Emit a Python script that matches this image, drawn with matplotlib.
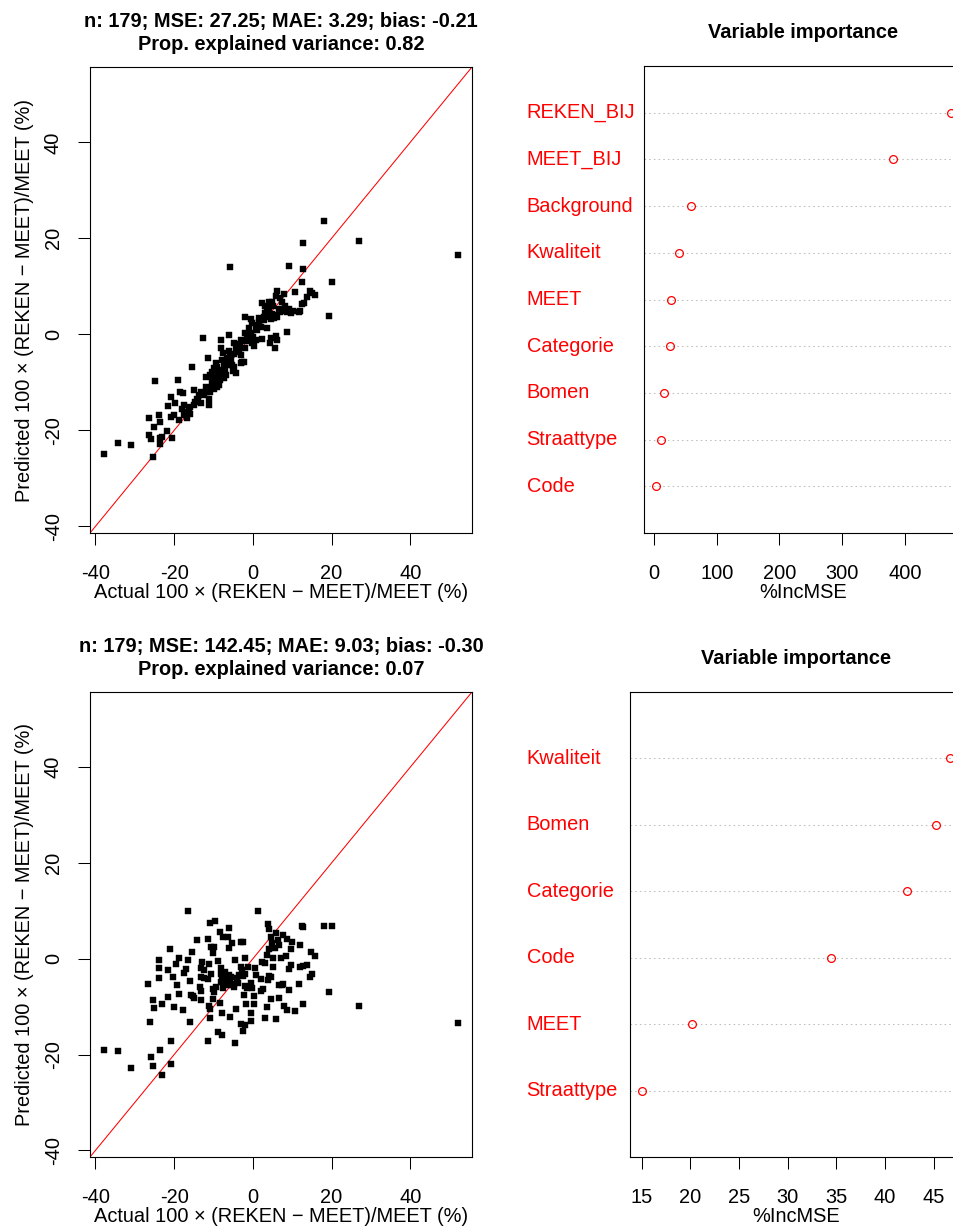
import matplotlib
matplotlib.use("Agg")
import matplotlib.pyplot as plt
from matplotlib.transforms import blended_transform_factory

plt.rcParams['font.family'] = ['Liberation Sans', 'DejaVu Sans']
plt.rcParams['axes.unicode_minus'] = False

# ---- datos panel superior (modelo 1) ----
act_top = [-5.9, 9.2, 12.8, 20.2, 12.4, 6.2, 7.9, 10.6, 14.5, 15.1,
           15.8, 13.8, 12.6, 12.1, 11.7, 7.0, 7.5, 2.4, 4.1, 4.9,
           3.6, 4.1, 3.2, 4.9, 7.0, 7.9, 8.7, 9.6, 6.2, 5.3,
           4.5, 2.8, 1.5, -1.9, -0.6, -0.3, 1.5, 0.7, 2.0, 3.6,
           8.7, 19.3, -1.9, -0.6, -6.1, -12.7, -8.1, -3.1, -2.3, -1.0,
           -0.2, 0.3, 0.7, 2.4, 4.7, 5.8, 6.2, 5.5, -8.2, -6.1,
           -4.4, -4.0, -4.8, -5.7, -3.1, -2.7, -2.3, -6.5, -7.0, -7.8,
           -7.4, -6.1, -5.3, -4.8, -9.1, -9.9, -10.3, -8.6, -8.2, -7.8,
           -7.4, -9.1, -9.5, -9.9, -8.6, -10.3, -11.2, -11.6, -10.8, -9.8,
           -9.1, -12.0, -11.4, -15.4, -19.1, -25.0, -4.4, -12.5, -13.3, -13.7,
           -14.2, -14.6, -13.3, -15.0, -15.9, -16.3, -16.7, -11.2, -11.2, -17.6,
           -18.4, -17.7, -20.9, -19.7, -21.6, -15.9, -16.7, -17.6, -20.1, -20.9,
           -18.8, -26.5, -23.9, -23.7, -25.2, -26.5, -26.0, -23.5, -23.1, -23.5,
           -21.8, -20.5, -25.3, 18.1, 12.8, 26.9, 52.1, -37.8, -34.4, -31.0,
           -8.9, -7.0, -6.6, -5.5, -9.6, -10.5, -8.4, -6.9, -3.6, -2.0,
           -1.4, 1.0, 2.9, 3.9, 5.6, 6.6, 8.2, 9.2, 10.2, 5.0,
           6.0, 3.0, -12.8, -11.9, -13.9, -4.9, -3.3, 0.0, 1.2, -0.9,
           -7.6, -5.0, -14.9, -18.0, -10.9, -2.9, 12.9, 4.3, -9.4]
pred_top = [14.0, 14.3, 13.6, 10.8, 10.8, 9.0, 8.4, 8.9, 9.1, 8.7,
            8.2, 7.7, 6.3, 4.9, 4.7, 7.5, 6.8, 6.6, 6.8, 6.8,
            5.6, 4.7, 4.4, 4.2, 4.7, 4.9, 4.7, 4.4, 3.7, 3.3,
            3.1, 3.7, 3.3, 3.6, 3.1, 2.3, 2.6, 1.6, 1.6, 1.4,
            0.4, 3.9, 0.2, 0.3, -0.1, -0.8, -1.2, -1.2, -1.4, -1.4,
            -1.9, -2.4, -1.2, -1.0, -0.8, -0.3, -1.2, -2.9, -2.9, -3.4,
            -2.9, -3.6, -4.2, -4.7, -4.3, -5.7, -5.8, -5.0, -5.7, -5.4,
            -6.4, -6.3, -6.4, -6.8, -6.8, -7.1, -7.8, -7.4, -8.1, -8.8,
            -9.2, -8.8, -9.5, -10.2, -10.6, -10.9, -11.3, -12.0, -12.0, -11.3,
            -10.9, -8.8, -5.0, -6.9, -9.5, -9.7, -8.0, -12.3, -12.0, -12.7,
            -13.4, -14.1, -14.4, -14.8, -15.1, -15.8, -16.1, -13.4, -14.8, -14.8,
            -12.0, -12.3, -13.0, -14.4, -15.0, -16.7, -17.5, -16.8, -16.8, -17.2,
            -17.9, -17.4, -16.8, -18.2, -19.3, -20.9, -21.9, -21.7, -21.4, -22.8,
            -20.2, -21.7, -25.6, 23.6, 19.1, 19.5, 16.6, -24.9, -22.7, -23.0,
            -7.9, -7.2, -5.9, -5.2, -9.0, -9.8, -9.6, -8.5, -3.3, -2.8,
            -0.7, 0.8, 2.9, 3.6, 4.0, 5.3, 5.9, 5.2, 4.9, 5.8,
            7.9, 5.9, -12.6, -10.9, -13.9, -1.9, -2.0, -0.6, 1.9, 1.3,
            -3.9, -7.6, -11.5, -15.5, -8.4, -6.0, 6.5, -1.9, -5.9]

# ---- datos panel inferior (modelo 2) ----
act_bot = [-37.8, -34.4, -31.0, 52.1, 26.9, -25.3, -23.1, -26.0, -20.9, 19.3,
           -16.6, 1.4, -10.9, -9.5, -6.1, -8.4, -7.6, -6.4, -11.5, -5.2,
           -3.0, -2.5, -10.6, -9.8, -6.0, -21.1, -15.5, -10.1, 3.8, 4.2,
           12.6, 12.8, 18.1, 20.2, 6.0, 7.7, 6.3, 4.9, 5.6, 4.2,
           9.6, 11.9, 3.5, 8.5, 5.1, 7.2, 3.2, 2.4, -1.9, -4.6,
           15.9, 9.8, 11.9, 12.8, 13.8, 15.1, 14.5, 9.1, -23.9, -18.8,
           -16.5, -19.6, -23.9, -21.6, -17.0, -17.6, -13.3, -12.5, -11.2, -8.9,
           -8.0, -10.6, -13.3, -12.5, -11.5, -20.4, -23.9, -26.6, -19.2, -13.5,
           -8.2, -7.8, -7.2, -8.2, -6.1, -5.9, -7.0, -6.7, -4.7, -4.0,
           -3.6, -3.1, -2.7, -1.9, -1.2, -0.4, -0.2, -2.0, -4.8, -7.6,
           -10.2, -13.1, -18.8, -21.5, -25.4, -23.2, -25.1, -20.1, -17.7, -15.6,
           -15.0, -15.2, -13.3, -10.2, -11.2, -10.8, -8.4, -7.9, -5.9, -10.8,
           -4.2, -1.7, 0.3, -0.6, -0.6, -3.1, -1.9, -2.5, -8.9, -7.9,
           -11.4, -4.6, -20.7, -23.5, -16.1, 2.1, 2.0, 2.5, 4.1, 3.9,
           6.7, 7.7, 7.3, 11.6, 4.7, 6.7, 3.5, 0.3, 7.9, 8.7,
           10.6, 12.7, 3.2, 6.0, -7.3, -6.3, -5.5, -6.6, -5.6, -2.5,
           -3.8, -1.6, -9.4, 0.5, 0.9, 6.6, 8.7, 10.0, 4.7, 4.7,
           -12.9, -16.0, -9.9, -2.2, 5.2, 9.2, 14.8, -14.3, -26.2]
pred_bot = [-19.0, -19.3, -22.9, -13.5, -9.8, -22.4, -24.3, -20.6, -21.9, -7.0,
            9.9, 9.9, 7.4, 7.8, 6.5, 5.6, 4.6, 4.6, 4.2, 3.3,
            3.4, 3.5, 2.4, 2.4, 2.2, 2.0, 1.5, 1.1, 7.2, 6.3,
            6.9, 6.7, 6.9, 6.9, 5.4, 4.9, 4.0, 3.3, 2.2, 2.0,
            2.1, 2.8, 0.8, 0.6, 0.1, 0.1, -0.8, -0.6, 0.1, -0.3,
            0.5, -1.3, -1.7, -1.5, -1.3, -3.1, -3.8, -2.2, -0.3, 0.2,
            -0.3, -1.2, -2.0, -2.4, -2.2, -2.9, -2.0, -2.4, -1.0, -0.5,
            -1.9, -3.1, -3.8, -4.0, -4.2, -3.8, -4.1, -5.3, -5.4, -5.9,
            -3.1, -4.0, -4.2, -4.8, -3.4, -4.5, -2.7, -5.4, -5.2, -4.1,
            -3.3, -1.7, -2.4, -3.1, -1.7, -5.0, -6.2, -5.7, -5.9, -6.2,
            -6.3, -6.8, -7.4, -7.9, -8.6, -9.5, -10.2, -10.0, -10.6, -7.6,
            -8.3, -7.8, -8.6, -8.4, -9.8, -10.4, -9.3, -11.3, -12.1, -12.3,
            -10.4, -9.4, -9.5, -11.3, -13.0, -13.6, -13.9, -15.1, -15.3, -16.0,
            -17.2, -17.6, -17.1, -19.1, -13.2, -4.3, -6.8, -6.4, -3.6, -4.5,
            -5.5, -5.2, -5.5, -5.2, -8.5, -8.1, -10.0, -7.8, -9.9, -10.6,
            -10.9, -9.4, -12.3, -12.5, -3.5, -3.6, -3.9, -4.6, -5.5, -3.6,
            -5.0, -6.2, -5.9, -2.0, -3.3, 2.9, 4.2, 3.6, 4.6, -3.8,
            -0.6, -4.6, -6.9, -7.6, -1.7, -6.6, 1.5, 4.0, -13.3]

# estadisticas que muestra el titulo
stats_top = ["27.25", "3.29", "-0.21", "0.82"]
stats_bot = ["142.45", "9.03", "-0.30", "0.07"]

# importancia de variables (de arriba hacia abajo)
vars_top = ["REKEN_BIJ", "MEET_BIJ", "Background", "Kwaliteit", "MEET",
            "Categorie", "Bomen", "Straattype", "Code"]
imp_top = [473.0, 380.7, 59.5, 40.4, 27.1, 25.5, 16.0, 11.2, 2.7]
vars_bot = ["Kwaliteit", "Bomen", "Categorie", "Code", "MEET", "Straattype"]
imp_bot = [46.7, 45.2, 42.3, 34.4, 20.2, 15.06]

W, H = 954, 1230
FS = 14.4
fig = plt.figure(figsize=(W / 100, H / 100), dpi=100)


def box(l, t, r, b):
    return [l / W, 1 - b / H, (r - l) / W, (b - t) / H]


def rango(v):
    lo, hi = min(v), max(v)
    d = 0.04 * (hi - lo)
    return lo - d, hi + d


def estilo(ax):
    for s in ax.spines.values():
        s.set_linewidth(0.8)
        s.set_color("black")
    ax.tick_params(axis="both", direction="out", length=8.6, width=0.75,
                   labelsize=FS)
    ax.tick_params(axis="x", pad=14)


def panel_scatter(ax, act, pred, stats, y_label_px, y_center_px):
    lo, hi = rango(act + pred)
    ax.scatter(act, pred, marker="s", s=13, c="black", edgecolors="black",
               linewidths=0.3, zorder=3)
    ax.axline((0, 0), slope=1, color="red", lw=0.75, zorder=2)
    ax.set_xlim(lo, hi)
    ax.set_ylim(lo, hi)
    ticks = [-40, -20, 0, 20, 40]
    ax.set_xticks(ticks)
    ax.set_yticks(ticks)
    ax.set_yticklabels([str(t) for t in ticks], rotation=90, va="center")
    estilo(ax)
    ax.tick_params(axis="y", pad=11)
    mse, mae, bias, pev = stats
    ax.set_title(f"n: {len(act)}; MSE: {mse}; MAE: {mae}; bias: {bias}\n"
                 f"Prop. explained variance: {pev}",
                 fontsize=FS, fontweight="bold", pad=12, linespacing=1.3)
    fig.text(281 / W, 1 - y_label_px / H,
             "Actual 100 × (REKEN − MEET)/MEET (%)",
             ha="center", va="baseline", fontsize=FS)
    fig.text(25 / W, 1 - y_center_px / H,
             "Predicted 100 × (REKEN − MEET)/MEET (%)",
             ha="center", va="center", rotation=90, fontsize=FS)


def panel_dot(ax, nombres, valores, xticks, y_label_px):
    n = len(valores)
    ypos = list(range(n, 0, -1))
    for y in ypos:
        ax.axhline(y, color="#BEBEBE", lw=0.75, ls=(0, (1.5, 3)), zorder=1)
    ax.plot(valores, ypos, "o", mfc="none", mec="red", ms=5.6, mew=0.9,
            zorder=3)
    ax.set_ylim(0, n + 1)
    ax.set_xlim(*rango(valores))
    ax.set_yticks([])
    ax.set_xticks(xticks)
    estilo(ax)
    trans = blended_transform_factory(fig.transFigure, ax.transData)
    for nom, y in zip(nombres, ypos):
        ax.text(526.5 / W, y, nom, transform=trans, color="red",
                ha="left", va="center", fontsize=FS)
    ax.set_title("Variable importance", fontsize=FS, fontweight="bold", pad=20)
    l, r = ax.get_position().x0, ax.get_position().x1
    fig.text((l + r) / 2, 1 - y_label_px / H, "%IncMSE",
             ha="center", va="baseline", fontsize=FS)


ax1 = fig.add_axes(box(90, 67, 472, 533))
ax2 = fig.add_axes(box(644, 66, 962.4, 533))
ax3 = fig.add_axes(box(90, 692, 472, 1157))
ax4 = fig.add_axes(box(630, 692, 962.5, 1157))

panel_scatter(ax1, act_top, pred_top, stats_top, 598, 300)
panel_scatter(ax3, act_bot, pred_bot, stats_bot, 1222, 924.5)
panel_dot(ax2, vars_top, imp_top, [0, 100, 200, 300, 400], 598)
panel_dot(ax4, vars_bot, imp_bot, [15, 20, 25, 30, 35, 40, 45], 1222)

fig.savefig("out.png", dpi=100)
